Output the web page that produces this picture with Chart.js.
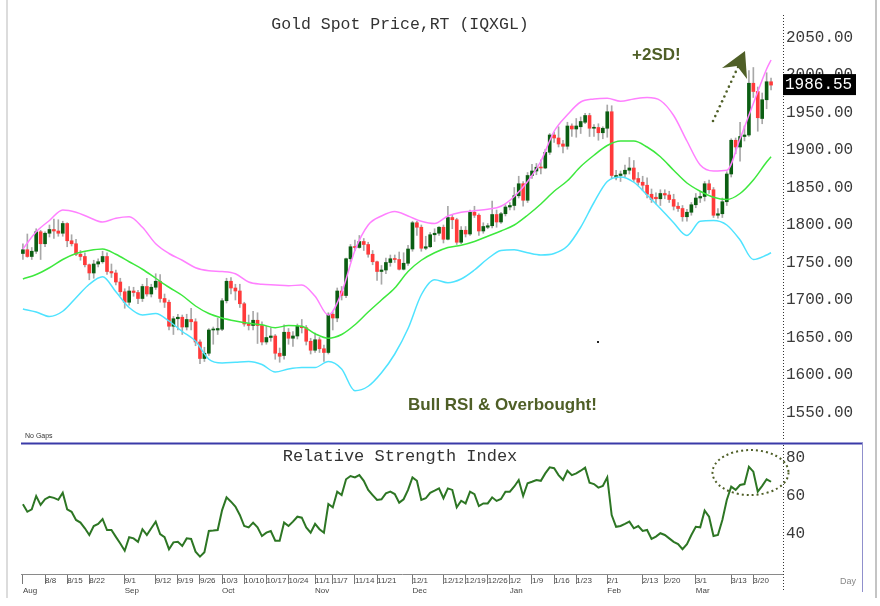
<!DOCTYPE html>
<html>
<head>
<meta charset="utf-8">
<title>Gold Spot Price,RT (IQXGL)</title>
<script src="https://cdn.jsdelivr.net/npm/chart.js@4.4.1/dist/chart.umd.min.js"></script>
<style>
    html, body { margin: 0; padding: 0; background: #fff; }
    #wrap { position: relative; width: 880px; height: 606px; overflow: hidden; background: #fff; }
    #priceChart { position: absolute; left: 0; top: 0; }
    #rsiChart { position: absolute; left: 0; top: 442px; }
    .edge { position: absolute; top: 0; height: 598px; width: 2px; }
    #edgeLeft { left: 6px; background: #dcdcdc; }
    #edgeRight { left: 875px; background: #c4c4c4; }
</style>
</head>
<body>
<div id="wrap">
    <canvas id="priceChart" width="880" height="443"></canvas>
    <canvas id="rsiChart" width="880" height="164"></canvas>
    <div class="edge" id="edgeLeft"></div>
    <div class="edge" id="edgeRight"></div>
</div>
<script>
// Daily candles, one per trading day (Aug 1 2022 .. Mar 24 2023)
const opens = [
    1762, 1767, 1758, 1765, 1791, 1775, 1789, 1794, 1792, 1789,
    1802, 1779, 1775, 1761, 1758, 1747, 1736, 1748, 1751, 1758,
    1738, 1736, 1724, 1711, 1697, 1712, 1710, 1702, 1718, 1708,
    1717, 1725, 1702, 1697, 1665, 1675, 1677, 1664, 1674, 1671,
    1644, 1622, 1629, 1660, 1660, 1661, 1699, 1725, 1716, 1712,
    1695, 1668, 1666, 1673, 1666, 1644, 1650, 1652, 1629, 1626,
    1657, 1649, 1652, 1665, 1663, 1645, 1633, 1647, 1635, 1630,
    1681, 1676, 1712, 1706, 1755, 1771, 1770, 1778, 1774, 1761,
    1751, 1738, 1740, 1750, 1755, 1754, 1741, 1749, 1768, 1803,
    1797, 1769, 1771, 1787, 1789, 1797, 1781, 1810, 1807, 1777,
    1793, 1788, 1817, 1813, 1792, 1797, 1799, 1814, 1804, 1815,
    1824, 1826, 1839, 1855, 1833, 1866, 1872, 1877, 1876, 1897,
    1920, 1916, 1908, 1905, 1932, 1928, 1931, 1937, 1946, 1929,
    1930, 1923, 1929, 1951, 1863, 1866, 1868, 1873, 1876, 1862,
    1857, 1853, 1841, 1837, 1835, 1842, 1840, 1834, 1825, 1822,
    1811, 1817, 1827, 1836, 1838, 1855, 1847, 1813, 1815, 1831,
    1868, 1913, 1904, 1918, 1920, 1989, 1978, 1942, 1967, 1991
];
const highs = [
    1775, 1788, 1770, 1795, 1793, 1791, 1800, 1808, 1807, 1805,
    1803, 1787, 1781, 1766, 1763, 1748, 1753, 1755, 1765, 1763,
    1748, 1740, 1729, 1715, 1718, 1717, 1713, 1721, 1729, 1721,
    1735, 1734, 1708, 1700, 1678, 1681, 1680, 1681, 1689, 1675,
    1647, 1637, 1662, 1664, 1676, 1702, 1729, 1730, 1721, 1721,
    1697, 1680, 1685, 1683, 1671, 1665, 1663, 1654, 1636, 1667,
    1662, 1658, 1668, 1674, 1666, 1649, 1656, 1650, 1640, 1683,
    1684, 1716, 1718, 1756, 1774, 1780, 1786, 1782, 1777, 1766,
    1752, 1746, 1756, 1760, 1760, 1764, 1763, 1773, 1805, 1805,
    1800, 1785, 1790, 1795, 1798, 1800, 1825, 1813, 1809, 1798,
    1798, 1820, 1825, 1815, 1803, 1802, 1832, 1820, 1817, 1827,
    1830, 1850, 1865, 1858, 1870, 1881, 1882, 1887, 1901, 1922,
    1924, 1931, 1913, 1937, 1935, 1942, 1944, 1949, 1949, 1934,
    1935, 1931, 1960, 1959, 1873, 1872, 1880, 1890, 1886, 1870,
    1865, 1863, 1848, 1843, 1847, 1847, 1845, 1841, 1830, 1826,
    1821, 1830, 1842, 1845, 1858, 1860, 1850, 1822, 1836, 1871,
    1915, 1916, 1937, 1932, 2006, 2010, 1984, 1976, 2003, 1996
];
const lows = [
    1754, 1757, 1754, 1762, 1754, 1771, 1784, 1782, 1785, 1785,
    1771, 1772, 1759, 1753, 1744, 1727, 1729, 1744, 1749, 1734,
    1730, 1720, 1706, 1689, 1693, 1705, 1695, 1698, 1705, 1704,
    1714, 1697, 1690, 1660, 1654, 1660, 1654, 1660, 1660, 1639,
    1615, 1618, 1626, 1641, 1654, 1659, 1696, 1708, 1700, 1690,
    1665, 1660, 1660, 1642, 1640, 1641, 1645, 1621, 1617, 1621,
    1641, 1638, 1648, 1656, 1640, 1628, 1630, 1630, 1618, 1628,
    1660, 1671, 1700, 1703, 1751, 1766, 1769, 1766, 1757, 1747,
    1726, 1721, 1735, 1745, 1750, 1740, 1740, 1746, 1765, 1786,
    1765, 1767, 1770, 1778, 1786, 1776, 1780, 1795, 1774, 1775,
    1784, 1786, 1810, 1786, 1789, 1795, 1796, 1797, 1802, 1812,
    1820, 1820, 1836, 1825, 1830, 1862, 1867, 1868, 1875, 1894,
    1910, 1904, 1896, 1901, 1918, 1917, 1922, 1935, 1918, 1918,
    1913, 1915, 1917, 1862, 1860, 1858, 1864, 1868, 1858, 1853,
    1846, 1836, 1830, 1828, 1826, 1835, 1830, 1820, 1818, 1805,
    1805, 1813, 1823, 1830, 1832, 1842, 1810, 1809, 1810, 1826,
    1864, 1895, 1885, 1912, 1918, 1970, 1925, 1935, 1955, 1980
];
const closes = [
    1767, 1758, 1765, 1791, 1775, 1789, 1794, 1792, 1789, 1802,
    1779, 1775, 1761, 1758, 1747, 1736, 1748, 1751, 1758, 1738,
    1736, 1724, 1711, 1697, 1712, 1710, 1702, 1718, 1708, 1717,
    1725, 1702, 1697, 1665, 1675, 1677, 1664, 1674, 1671, 1644,
    1622, 1629, 1660, 1661, 1662, 1699, 1725, 1716, 1712, 1695,
    1668, 1666, 1673, 1666, 1644, 1650, 1652, 1629, 1625, 1657,
    1649, 1652, 1665, 1663, 1645, 1633, 1647, 1635, 1630, 1681,
    1676, 1712, 1706, 1755, 1771, 1770, 1778, 1774, 1761, 1751,
    1738, 1740, 1750, 1755, 1754, 1741, 1749, 1768, 1803, 1797,
    1769, 1771, 1787, 1789, 1797, 1781, 1810, 1807, 1777, 1793,
    1788, 1817, 1813, 1792, 1798, 1799, 1814, 1804, 1815, 1824,
    1826, 1839, 1855, 1833, 1866, 1872, 1877, 1876, 1897, 1920,
    1916, 1908, 1905, 1932, 1928, 1932, 1938, 1946, 1929, 1930,
    1923, 1929, 1951, 1866, 1866, 1868, 1873, 1876, 1861, 1857,
    1853, 1841, 1834, 1835, 1842, 1840, 1834, 1825, 1822, 1811,
    1817, 1827, 1836, 1838, 1855, 1847, 1813, 1815, 1831, 1868,
    1913, 1904, 1918, 1920, 1989, 1978, 1943, 1967, 1991, 1986.55
];

// Bollinger bands, read every third trading day
const bandDays = [
    0, 3, 6, 9, 12, 15, 18, 21, 24, 27, 30, 33, 36, 39, 42, 45, 48, 51, 54, 57,
    60, 63, 66, 69, 72, 75, 78, 81, 84, 87, 90, 93, 96, 99, 102, 105, 108, 111, 114, 117,
    120, 123, 126, 129, 132, 135, 138, 141, 144, 147, 150, 153, 156, 159, 162, 165, 168, 169
];
const upperBand = [
    1768, 1791, 1806, 1820, 1817, 1810, 1804, 1809, 1811, 1797,
    1775, 1762, 1753, 1743, 1739, 1738, 1735, 1724, 1721, 1720,
    1719, 1720, 1705, 1680, 1710, 1766, 1800, 1812, 1818, 1812,
    1805, 1802, 1812, 1817, 1819, 1821, 1825, 1838, 1858, 1885,
    1925, 1947, 1964, 1968, 1969, 1965, 1968, 1970, 1966, 1946,
    1912, 1880, 1872, 1873, 1915, 1962, 2008, 2020
];
const middleBand = [
    1728, 1734, 1743, 1754, 1762, 1766, 1768, 1761, 1751, 1741,
    1729, 1717, 1706, 1692, 1682, 1676, 1672, 1669, 1667, 1663,
    1666, 1665, 1655, 1649, 1654, 1667, 1684, 1700, 1716, 1738,
    1753, 1763, 1770, 1773, 1778, 1785, 1792, 1800, 1813, 1828,
    1845, 1859, 1878, 1893, 1906, 1912, 1912, 1904, 1891, 1873,
    1856, 1845, 1837, 1834, 1842, 1860, 1884, 1891
];
const lowerBand = [
    1688, 1684, 1678, 1685, 1703, 1721, 1731, 1711, 1690, 1680,
    1682, 1672, 1658, 1645, 1621, 1616, 1617, 1618, 1614, 1604,
    1608, 1610, 1610, 1618, 1608, 1579, 1585, 1603, 1628, 1662,
    1707, 1727, 1723, 1728, 1740, 1755, 1766, 1767, 1763, 1760,
    1762, 1772, 1797, 1830, 1858, 1864, 1857, 1840, 1822, 1803,
    1786, 1805, 1806, 1800, 1780, 1754, 1760, 1763
];

// Relative Strength Index, one value per trading day
const rsiValues = [
    55.6, 51.7, 53, 60, 55.3, 58.3, 59.6, 59, 58, 61.7,
    53, 51.7, 47.4, 46, 43, 39.5, 44.2, 45.3, 47.9, 42.1,
    42.1, 38.5, 35, 31.2, 38.3, 37.7, 35.9, 42.5, 39.5, 43,
    46.5, 40, 38.3, 32, 35.6, 35.9, 33.7, 37.7, 37.4, 30.7,
    28.1, 30.4, 41.6, 41.8, 42.1, 52.6, 59.3, 57, 54.4, 50,
    44.2, 43.5, 46, 43.5, 38.9, 40.7, 41.6, 36.5, 36.5, 46,
    44.2, 46.5, 49.1, 48.6, 43.5, 40.7, 45.3, 42.5, 40.7, 55.8,
    54, 62.3, 60.5, 68.8, 70.5, 69.8, 71, 68, 63.2, 60.5,
    57.9, 58.3, 61.4, 62.3, 61, 56.5, 58.3, 63.2, 69.8, 68,
    57.9, 58.8, 61.7, 62.8, 64, 58.8, 64, 63.2, 54, 57.5,
    56.1, 62.3, 61, 54.7, 56.1, 56.1, 59.3, 57.4, 58.4, 62.3,
    62.3, 65, 68.4, 60, 66.7, 67.5, 68.4, 68, 71.9, 75.1,
    74.6, 71, 68.4, 73.3, 71, 71.9, 73.3, 74.9, 67, 66.3,
    64.4, 65.3, 69.8, 50, 43.8, 44.2, 45.3, 46.5, 43, 44.2,
    41.6, 42.1, 37.4, 38.6, 40.4, 39.5, 37.7, 35.9, 34.7, 32,
    34.7, 39.5, 43.8, 43.5, 52.3, 49.1, 38.9, 39.5, 47.4, 57.9,
    64.9, 63.2, 65.8, 66.3, 75.4, 72.8, 62.3, 65.3, 68.8, 67.5
];

// Axis ticks
const priceTicks = [1550, 1600, 1650, 1700, 1750, 1800, 1850, 1900, 1950, 2000, 2050];
const rsiTicks = [40, 60, 80];
const xTickDays = [0, 5, 10, 15, 23, 30, 35, 40, 45, 50, 55, 60, 66, 70, 75, 80, 88, 95, 100, 105, 110, 115, 120, 125, 132, 140, 145, 152, 160, 165];
const xTickDates = ['', '8/8', '8/15', '8/22', '9/1', '9/12', '9/19', '9/26', '10/3', '10/10', '10/17', '10/24', '11/1', '11/7', '11/14', '11/21',
    '12/1', '12/12', '12/19', '12/26', '1/2', '1/9', '1/16', '1/23', '2/1', '2/13', '2/20', '3/1', '3/13', '3/20'];
const xTickMonths = ['Aug', '', '', '', 'Sep', '', '', '', 'Oct', '', '', '', 'Nov', '', '', '',
    'Dec', '', '', '', 'Jan', '', '', '', 'Feb', '', '', 'Mar', '', ''];

const UP = '#0b5e12';
const DOWN = '#ff3a3a';
const OLIVE = '#4f5f27';
const X_MIN = -0.43;
const X_MAX = 171.7;
const MONO = '"Liberation Mono", "DejaVu Sans Mono", monospace';

const wickData = closes.map((c, i) => ({ x: i, y: [lows[i], highs[i]] }));
const bodyData = closes.map((c, i) => ({ x: i, y: [opens[i], c] }));
const bodyColors = closes.map((c, i) => c >= opens[i] ? UP : DOWN);

function bandLine(values, color) {
    return {
        type: 'line',
        data: bandDays.map((d, k) => ({ x: d, y: values[k] })),
        borderColor: color,
        borderWidth: 1.5,
        pointRadius: 0,
        cubicInterpolationMode: 'monotone',
        order: 0
    };
}

function fixWidth(scale) {
    scale.width = 97;
    scale.paddingTop = 0;
    scale.paddingBottom = 0;
}

// dotted value-axis line along the right edge of the plot
function dottedAxis(ctx, x, top, bottom) {
    ctx.save();
    ctx.strokeStyle = '#333';
    ctx.lineWidth = 1;
    ctx.setLineDash([1, 2]);
    ctx.beginPath();
    ctx.moveTo(x, top);
    ctx.lineTo(x, bottom);
    ctx.stroke();
    ctx.restore();
}

// Titles and remarks on the price panel
const priceNotes = {
    id: 'priceNotes',
    afterDraw(chart) {
        const { ctx, chartArea, scales: { y } } = chart;
        dottedAxis(ctx, Math.round(chartArea.right) + 0.5, chartArea.top, chartArea.bottom);
        ctx.save();
        ctx.fillStyle = '#333';
        ctx.font = '16.5px ' + MONO;
        ctx.textAlign = 'center';
        ctx.textBaseline = 'middle';
        ctx.fillText('Gold Spot Price,RT (IQXGL)', 400, 25);

        ctx.fillStyle = OLIVE;
        ctx.font = 'bold 17px "Liberation Sans", Arial, sans-serif';
        ctx.textAlign = 'left';
        ctx.fillText('+2SD!', 632, 55);
        ctx.fillText('Bull RSI & Overbought!', 408, 405);

        // dotted arrow
        for (let k = 0; k <= 11; k++) {
            const t = k / 11;
            ctx.beginPath();
            ctx.arc(713 + 25 * t, 121 - 54 * t, 1.3, 0, Math.PI * 2);
            ctx.fill();
        }
        ctx.beginPath();
        ctx.moveTo(745, 51);
        ctx.lineTo(722, 68);
        ctx.lineTo(737, 66);
        ctx.lineTo(747, 79);
        ctx.closePath();
        ctx.fill();

        ctx.fillStyle = '#222';
        ctx.fillRect(597, 341, 2, 2);

        ctx.fillStyle = '#333';
        ctx.font = '7px "Liberation Sans", Arial, sans-serif';
        ctx.fillText('No Gaps', 25, 436);

        // last price flag
        const last = closes[closes.length - 1];
        const py = y.getPixelForValue(last);
        ctx.fillStyle = '#000';
        ctx.fillRect(783, py - 11, 73, 21);
        ctx.fillStyle = '#fff';
        ctx.font = '16px ' + MONO;
        ctx.fillText(last.toFixed(2), 785, py);
        ctx.restore();
    }
};

// Frame, title and remark on the RSI panel
const rsiNotes = {
    id: 'rsiNotes',
    afterDraw(chart) {
        const { ctx, chartArea } = chart;
        dottedAxis(ctx, Math.round(chartArea.right) + 0.5, chartArea.top, 148);
        ctx.save();
        ctx.strokeStyle = '#3a3aa8';
        ctx.lineWidth = 2;
        ctx.beginPath();
        ctx.moveTo(21, 1.5);
        ctx.lineTo(863, 1.5);
        ctx.stroke();
        ctx.strokeStyle = '#9090cc';
        ctx.lineWidth = 1;
        ctx.beginPath();
        ctx.moveTo(862.5, 1);
        ctx.lineTo(862.5, 150);
        ctx.stroke();

        ctx.fillStyle = '#333';
        ctx.font = '17px ' + MONO;
        ctx.textAlign = 'center';
        ctx.textBaseline = 'middle';
        ctx.fillText('Relative Strength Index', 400, 14);

        ctx.fillStyle = '#888';
        ctx.font = '9px "Liberation Sans", Arial, sans-serif';
        ctx.textAlign = 'left';
        ctx.fillText('Day', 840, 140);

        ctx.strokeStyle = OLIVE;
        ctx.lineWidth = 2;
        ctx.setLineDash([2, 3]);
        ctx.beginPath();
        ctx.ellipse(750.5, 30.5, 38, 22.5, 0, 0, Math.PI * 2);
        ctx.stroke();
        ctx.restore();
    }
};

new Chart(document.getElementById('priceChart'), {
    type: 'bar',
    data: {
        datasets: [
            bandLine(upperBand, '#ff80ff'),
            bandLine(middleBand, '#3de83d'),
            bandLine(lowerBand, '#4fe3ff'),
            { data: bodyData, backgroundColor: bodyColors, barThickness: 3, minBarLength: 1, grouped: false, order: 1 },
            { data: wickData, backgroundColor: '#a8a8a8', barThickness: 1, grouped: false, order: 2 }
        ]
    },
    options: {
        responsive: false,
        animation: false,
        layout: { padding: { left: 21, right: 0, top: 15, bottom: 3 } },
        plugins: { legend: { display: false }, tooltip: { enabled: false } },
        scales: {
            x: { type: 'linear', min: X_MIN, max: X_MAX, offset: false, display: false },
            y: {
                position: 'right',
                min: 1513.33,
                max: 2080,
                afterBuildTicks: s => { s.ticks = priceTicks.map(v => ({ value: v })); },
                afterFit: fixWidth,
                grid: { display: false, drawTicks: false },
                border: { display: false },
                ticks: { color: '#3a3a3a', padding: 3, font: { family: MONO, size: 16 }, callback: v => v.toFixed(2) }
            }
        }
    },
    plugins: [priceNotes]
});

new Chart(document.getElementById('rsiChart'), {
    type: 'line',
    data: {
        datasets: [{
            data: rsiValues.map((v, i) => ({ x: i, y: v })),
            borderColor: '#2d7624',
            borderWidth: 2,
            pointRadius: 0,
            tension: 0
        }]
    },
    options: {
        responsive: false,
        animation: false,
        layout: { padding: { left: 21, right: 0, top: 3, bottom: 0 } },
        plugins: { legend: { display: false }, tooltip: { enabled: false } },
        scales: {
            x: {
                type: 'linear',
                min: X_MIN,
                max: X_MAX,
                afterBuildTicks: s => { s.ticks = xTickDays.map(v => ({ value: v })); },
                afterFit: s => { s.height = 32; s.paddingLeft = 0; s.paddingRight = 0; },
                grid: { drawOnChartArea: false, drawTicks: true, tickLength: 10, color: '#777' },
                border: { display: true, color: '#8a8a8a', width: 1 },
                ticks: {
                    autoSkip: false,
                    maxRotation: 0,
                    align: 'start',
                    padding: -8,
                    color: '#444',
                    font: { family: '"Liberation Sans Narrow", "Liberation Sans", Arial, sans-serif', size: 8 },
                    callback: (v, k) => xTickMonths[k] ? [xTickDates[k], xTickMonths[k]] : xTickDates[k]
                }
            },
            y: {
                position: 'right',
                min: 18.95,
                max: 86.84,
                afterBuildTicks: s => { s.ticks = rsiTicks.map(v => ({ value: v })); },
                afterFit: fixWidth,
                grid: { display: false, drawTicks: false },
                border: { display: false },
                ticks: { color: '#3a3a3a', padding: 3, font: { family: MONO, size: 16 }, callback: v => String(v) }
            }
        }
    },
    plugins: [rsiNotes]
});
</script>
</body>
</html>
